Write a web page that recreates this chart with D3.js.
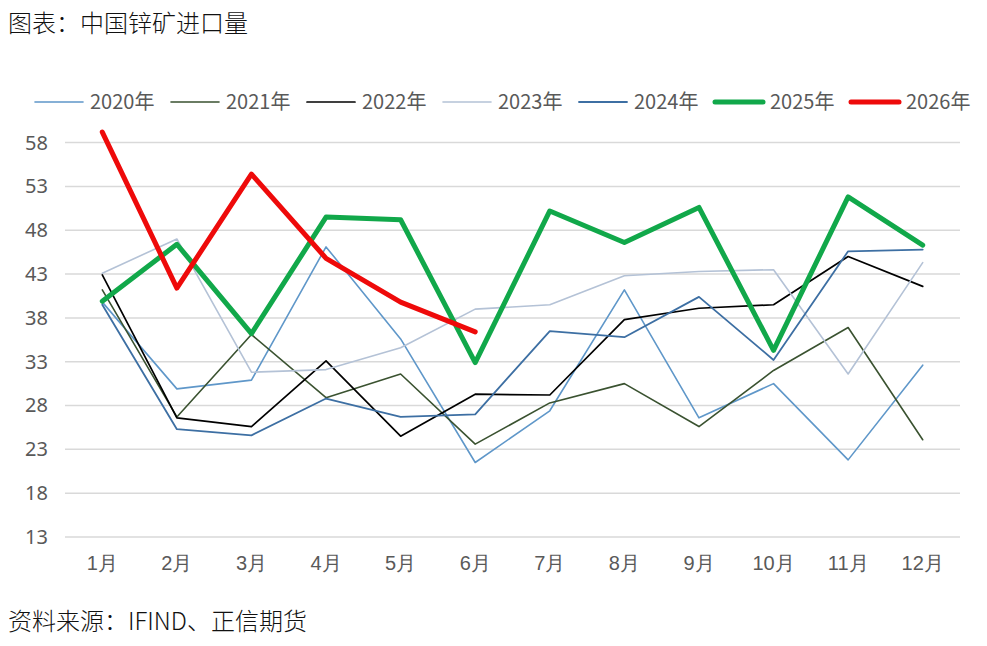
<!DOCTYPE html>
<html><head><meta charset="utf-8">
<script src="https://cdn.jsdelivr.net/npm/d3@7"></script>
<style>
body{margin:0;background:#fff;}
svg{display:block;font-family:"Noto Sans CJK SC","Noto Sans",sans-serif;}
</style></head>
<body><svg id="c" width="987" height="646"></svg>
<script>
const months = ["1月","2月","3月","4月","5月","6月","7月","8月","9月","10月","11月","12月"];
const yTicks = [13,18,23,28,33,38,43,48,53,58];
const seriesNames = ["2020年","2021年","2022年","2023年","2024年","2025年","2026年"];
const v2020 = [39.8,29.9,30.9,46.1,35.6,21.5,27.4,41.2,26.6,30.5,21.8,32.6];
const v2021 = [41.2,26.7,36.1,28.9,31.6,23.6,28.3,30.5,25.6,32.0,36.9,24.1];
const v2022 = [42.9,26.6,25.6,33.1,24.5,29.3,29.2,37.8,39.1,39.5,45.0,41.6];
const v2023 = [43.1,47.0,31.8,32.1,34.6,39.0,39.5,42.8,43.3,43.5,31.6,44.3];
const v2024 = [39.5,25.3,24.6,28.8,26.7,27.0,36.5,35.8,40.4,33.2,45.6,45.8];
const v2025 = [39.9,46.4,36.2,49.5,49.2,32.9,50.2,46.6,50.6,34.3,51.8,46.3];
const v2026 = [59.2,41.4,54.4,44.8,39.8,36.4];
const seriesValues = [v2020,v2021,v2022,v2023,v2024,v2025,v2026];
const colors = ["#5f97c9","#3a5230","#000000","#b4c2d6","#3d6fa3","#11a84a","#ee0a0a"];
const widths = [1.6,1.6,1.7,1.6,1.8,5,5];

const svg = d3.select("#c");
const x = d3.scaleBand().domain(months).range([65,960]);
const y = d3.scaleLinear().domain([13,58]).range([537,142.6]);

svg.append("text").attr("x",8).attr("y",32).attr("font-size",24).attr("fill","#111")
  .attr("font-weight",300).text("图表：中国锌矿进口量");
svg.append("text").attr("x",8).attr("y",630).attr("font-size",24).attr("fill","#111")
  .attr("font-weight",300).text("资料来源：IFIND、正信期货");

// grid
svg.append("g").selectAll("line").data(yTicks).join("line")
  .attr("x1",65).attr("x2",960).attr("y1",d=>y(d)).attr("y2",d=>y(d))
  .attr("stroke","#d9d9d9").attr("stroke-width",1.5);

// y axis labels
const ya = svg.append("g").attr("transform","translate(48,0)")
  .call(d3.axisLeft(y).tickValues(yTicks).tickSize(0).tickPadding(0));
ya.select(".domain").remove();
ya.selectAll("text").attr("font-size",20).attr("fill","#595959").attr("font-family","'Noto Sans',sans-serif").attr("x",0);

// x axis labels
const xa = svg.append("g").attr("transform","translate(0,556)")
  .call(d3.axisBottom(x).tickSize(0).tickPadding(0));
xa.select(".domain").remove();
xa.selectAll("text").attr("font-size",20).attr("fill","#595959").attr("dy","0.71em");

const line = d3.line().x((d,i)=>x(months[i])+x.bandwidth()/2).y(d=>y(d));
seriesValues.forEach((vals,k)=>{
  svg.append("path").datum(vals).attr("d",line).attr("fill","none")
    .attr("stroke",colors[k]).attr("stroke-width",widths[k])
    .attr("stroke-linejoin","round").attr("stroke-linecap","round");
});

// legend
const lg = svg.append("g");
seriesNames.forEach((n,k)=>{
  const lx = 35 + k*136;
  lg.append("line").attr("x1",lx).attr("x2",lx+48).attr("y1",102).attr("y2",102)
    .attr("stroke",colors[k]).attr("stroke-width",widths[k]).attr("stroke-linecap","round");
  lg.append("text").attr("x",lx+55).attr("y",102).attr("dy","0.35em")
    .attr("font-size",20).attr("fill","#595959").text(n);
});
</script></body></html>
